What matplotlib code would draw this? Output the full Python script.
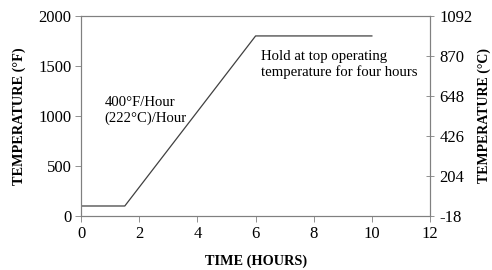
import matplotlib.pyplot as plt

hours = [0, 1.5, 6, 10]
temp_f = [100, 100, 1800, 1800]
f_ticks = [0, 500, 1000, 1500, 2000]
c_ticks = [-18, 204, 426, 648, 870, 1092]
x_ticks = [0, 2, 4, 6, 8, 10, 12]

plt.rcParams['font.family'] = ['Liberation Serif', 'DejaVu Serif']
plt.rcParams['axes.unicode_minus'] = False

fig = plt.figure(figsize=(4.92, 2.70), dpi=100)
ax = fig.add_axes([0.165, 0.2, 0.709, 0.741])
ax.plot(hours, temp_f, color='#404040', linewidth=0.9)

ax.set_xlim(0, 12)
ax.set_ylim(0, 2000)
ax.set_xticks(x_ticks)
ax.set_yticks(f_ticks)
ax.tick_params(labelsize=12, length=4, width=0.6, color='#808080', pad=3)
for s in ['left', 'bottom', 'right', 'top']:
    ax.spines[s].set_color('#808080')
    ax.spines[s].set_linewidth(0.8)
ax.set_xlabel('TIME (HOURS)', fontsize=10.3, fontweight='bold', labelpad=9)
ax.set_ylabel('TEMPERATURE (°F)', fontsize=10.3, fontweight='bold', labelpad=9)

ax2 = ax.twinx()
ax2.set_ylim(-18, 1092)
ax2.set_yticks(c_ticks)
ax2.set_yticklabels([str(c) for c in c_ticks])
ax2.tick_params(labelsize=12, length=6, width=0.6, color='#808080', direction='inout', pad=4)
for s in ['left', 'bottom', 'right', 'top']:
    ax2.spines[s].set_color('#808080')
    ax2.spines[s].set_linewidth(0.8)
ax2.set_ylabel('TEMPERATURE (°C)', fontsize=10, fontweight='bold', labelpad=3)

ax.text(0.8, 1200, '400°F/Hour\n(222°C)/Hour', fontsize=10.6, va='top', linespacing=1.25)
ax.text(6.2, 1660, 'Hold at top operating\ntemperature for four hours', fontsize=10.6, va='top', linespacing=1.25)

fig.savefig('out.png', dpi=100)
